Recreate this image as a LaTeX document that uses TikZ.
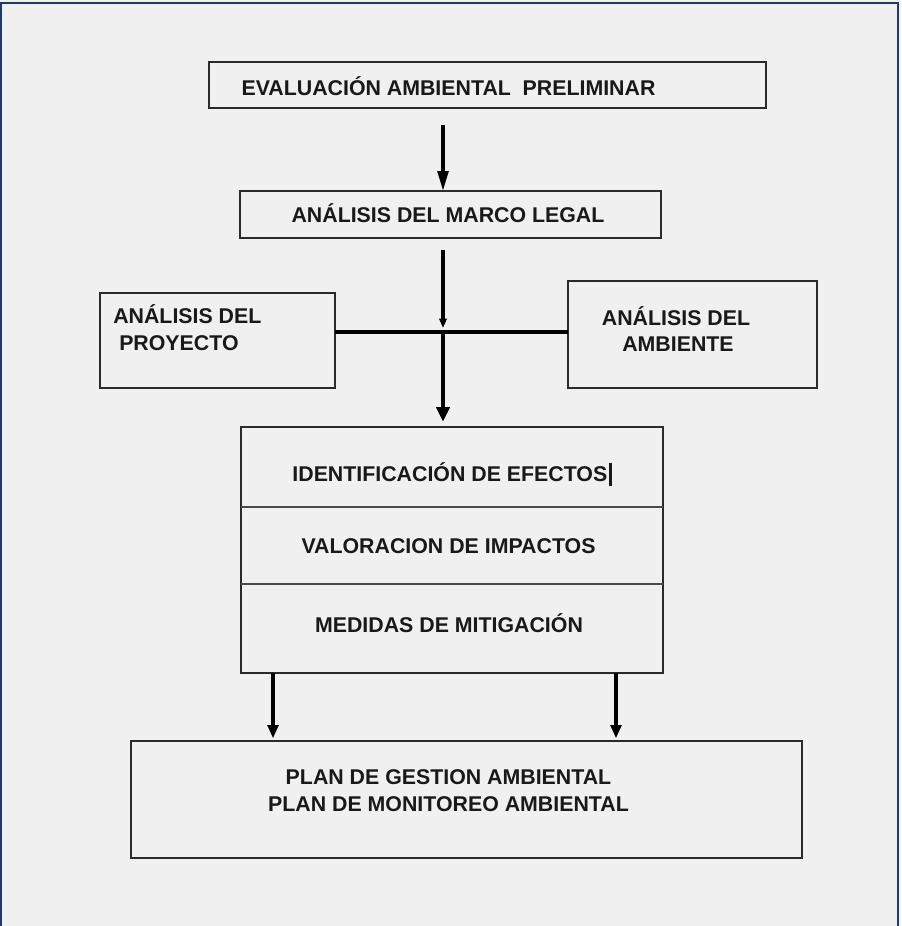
\documentclass[tikz,border=0pt]{standalone}
\usepackage{fontspec}
\setmainfont{Liberation Sans}
\usetikzlibrary{arrows.meta,fit}
\definecolor{bg}{HTML}{F0F0F0}
\definecolor{framec}{HTML}{1F3A6E}
\definecolor{edge}{HTML}{2A2A2A}
\begin{document}
\begin{tikzpicture}[x=0.75pt,y=-0.75pt,
  box/.style={draw=edge, line width=1.4pt, inner sep=0pt, outer sep=0pt},
  txt/.style={font=\fontsize{16pt}{20pt}\selectfont\bfseries, text=black!90, inner sep=0pt, anchor=base},
  arr/.style={line width=2.6pt, draw=black},
  divider/.style={draw=edge!85, line width=1.4pt}
]
\useasboundingbox (0,0) rectangle (901,926);
\clip (0,0) rectangle (901,926);
\fill[bg] (0,0) rectangle (901,926);
\draw[framec, line width=1.6pt] (1,3) rectangle (898,960);

% boxes
\node[box, fit={(209,62) (766,108)}] (e) {};
\node[txt] (et) at (448.5,95) {EVALUACIÓN AMBIENTAL\hspace{0.55em}PRELIMINAR};

\node[box, fit={(240,191) (661,238)}] (m) {};
\node[txt] (mt) at (448,222) {ANÁLISIS DEL MARCO LEGAL};

\node[box, fit={(100,293) (335,388)}] (p) {};
\node[txt, anchor=base west] (p1) at (113,323.5) {ANÁLISIS DEL};
\node[txt, anchor=base west] (p2) at (119,350) {PROYECTO};

\node[box, fit={(568,281) (817,388)}] (a) {};
\node[txt] (a1) at (676,325) {ANÁLISIS DEL};
\node[txt] (a2) at (678,351) {AMBIENTE};

\node[box, fit={(241,427) (663,673)}] (b) {};
\coordinate (d1) at (452,507);
\coordinate (d2) at (452,584);
\draw[divider] (b.west |- d1) -- (b.east |- d1);
\draw[divider] (b.west |- d2) -- (b.east |- d2);
\node[txt] (b1) at (452,481) {IDENTIFICACIÓN DE EFECTOS\hspace{1pt}\rule[-3.75pt]{2.2pt}{17.25pt}};
\node[txt] (b2) at (448.5,553) {VALORACION DE IMPACTOS};
\node[txt] (b3) at (449,632) {MEDIDAS DE MITIGACIÓN};

\node[box, fit={(131,741) (802,858)}] (g) {};
\node[txt] (g1) at (448.5,784) {PLAN DE GESTION AMBIENTAL};
\node[txt] (g2) at (448.5,811) {PLAN DE MONITOREO AMBIENTAL};

% connectors
\coordinate (ax) at (443,0);
\coordinate (cx) at (443,332);
\coordinate (l1) at (273,0);
\coordinate (r1) at (616,0);

\draw[arr, -{Triangle[width=8pt,length=15pt]}, shorten <=12.75pt] (e.south -| ax) -- (m.north -| ax);
\draw[arr, -{Triangle[width=5.5pt,length=7pt]}, shorten <=9pt, shorten >=3pt] (m.south -| ax) -- (cx);
\draw[line width=3pt, draw=black] (p.east |- cx) -- (a.west |- cx);
\draw[arr, -{Triangle[width=10pt,length=11pt]}, shorten >=4pt] (cx) -- (b.north -| ax);
\draw[arr, -{Triangle[width=8pt,length=10pt]}, shorten >=2pt] (b.south -| l1) -- (g.north -| l1);
\draw[arr, -{Triangle[width=8pt,length=10pt]}, shorten >=2pt] (b.south -| r1) -- (g.north -| r1);
\end{tikzpicture}
\end{document}
